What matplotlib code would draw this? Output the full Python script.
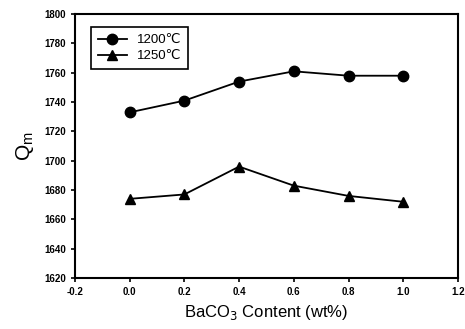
import matplotlib
matplotlib.use("Agg")
import matplotlib.pyplot as plt

plt.rcParams["font.family"] = ["Liberation Sans", "DejaVu Sans"]

baco3 = [0.0, 0.2, 0.4, 0.6, 0.8, 1.0]
qm_1200 = [1733, 1741, 1754, 1761, 1758, 1758]
qm_1250 = [1674, 1677, 1696, 1683, 1676, 1672]
labels = ["1200\u2103", "1250\u2103"]

xticks = [-0.2, 0.0, 0.2, 0.4, 0.6, 0.8, 1.0, 1.2]
yticks = list(range(1620, 1801, 20))

fig = plt.figure(figsize=(4.65, 3.29), dpi=100)
ax = fig.add_axes([0.161, 0.155, 0.824, 0.802])

ax.plot(baco3, qm_1200, color="black", marker="o", markersize=7.5, lw=1.3, label=labels[0])
ax.plot(baco3, qm_1250, color="black", marker="^", markersize=7.5, lw=1.3, label=labels[1])

ax.set_xlim(-0.2, 1.2)
ax.set_ylim(1620, 1800)
ax.set_xticks(xticks)
ax.set_xticklabels([f"{t:.1f}" for t in xticks])
ax.set_yticks(yticks)
ax.tick_params(axis="both", labelsize=7, direction="out", length=3, width=1.2)
for lbl in ax.get_xticklabels() + ax.get_yticklabels():
    lbl.set_fontweight("bold")
for sp in ax.spines.values():
    sp.set_linewidth(1.5)

ax.set_xlabel("BaCO$_3$ Content (wt%)", fontsize=12)
ax.set_ylabel("Q$_\\mathregular{m}$", fontsize=15, labelpad=6)

leg = ax.legend(loc="upper left", bbox_to_anchor=(0.025, 0.975), fontsize=9.5,
                frameon=True, fancybox=False, edgecolor="black", framealpha=1,
                handlelength=2.2, borderpad=0.5, labelspacing=0.3)
leg.get_frame().set_linewidth(1.2)

fig.savefig("out.png", dpi=100, facecolor="white")
